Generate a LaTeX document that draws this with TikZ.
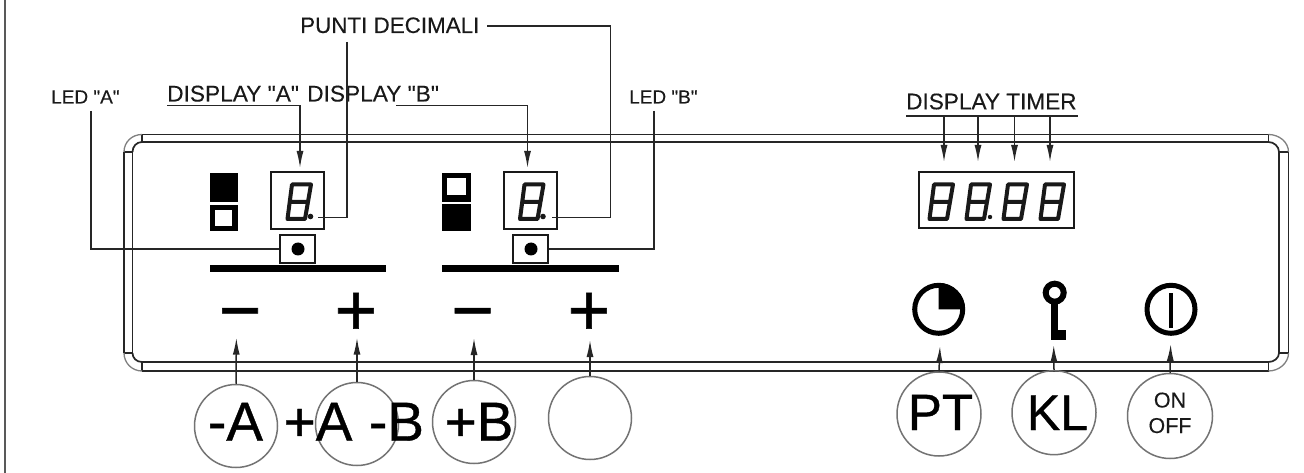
\documentclass[tikz,border=0pt]{standalone}
\usepackage{fontspec}
\setmainfont{Liberation Sans}
\newfontfamily\heavyfont[FakeBold=0.7]{Liberation Sans}
\newfontfamily\midfont[FakeBold=0.2]{Liberation Sans}
\usetikzlibrary{arrows.meta}
\newcommand{\fs}[1]{\fontsize{#1}{#1}\selectfont}
\tikzset{
  ink/.style={draw=black!85,line width=1.7pt},
  lead/.style={draw=black!85,line width=1.5pt},
  lead arrow/.style={lead,-{Latex[length=17pt,width=7pt]}},
  arc gray/.style={draw=black!50,line width=1.3pt},
  box/.style={draw=black!90,line width=1.6pt,inner sep=0,rectangle},
  button/.style={circle,draw=black!55,line width=1.5pt,minimum size=83pt,inner sep=0},
  lab/.style={inner sep=0,anchor=base west,text=black!90},
  bigtext/.style={inner sep=0,anchor=base,text=black,font=\heavyfont\fs{55}},
  sign/.style={inner sep=0,anchor=base,text=black,font=\heavyfont\fs{73}},
  pics/segdigit/.style={code={
    \draw[black!90,line width=4pt,line join=round]
      (6,1.5)--(25,1.5)--(19,36)--(1.5,36)--cycle (3.7,19)--(22,19);
  }}
}
\begin{document}
\begin{tikzpicture}[x=1pt,y=-1pt]
\useasboundingbox (0,0) rectangle (1304,473);
\fill[white] (0,0) rectangle (1304,473);
% outer left frame
\draw[draw=black!65,line width=2.2pt] (5,0)--(5,473);
% panel
\draw[ink] (142,134.5)--(1268.5,134.5) (142,142)--(1268.5,142)
  (142,362)--(1268.5,362) (142,371)--(1268.5,371)
  (124,152)--(124,353) (132.5,152)--(132.5,353)
  (1279,152)--(1279,353) (1288.5,152)--(1288.5,353);
\draw[ink] (142,134.5)--(142,142) (1268.5,134.5)--(1268.5,142)
  (142,362)--(142,371) (1268.5,362)--(1268.5,371)
  (124,152)--(132.5,152) (1279,152)--(1288.5,152)
  (124,353)--(132.5,353) (1279,353)--(1288.5,353);
\draw[arc gray] (124,152) .. controls (124,142) and (132,134.5) .. (142,134.5)
  (1268.5,134.5) .. controls (1279,134.5) and (1288.5,142) .. (1288.5,152)
  (1288.5,353) .. controls (1288.5,363) and (1279,371) .. (1268.5,371)
  (142,371) .. controls (132,371) and (124,363) .. (124,353);
\draw[ink] (132.5,152) .. controls (132.5,146.5) and (136.5,142) .. (142,142)
  (1268.5,142) .. controls (1274,142) and (1279,146.5) .. (1279,152)
  (1279,353) .. controls (1279,358) and (1274,362) .. (1268.5,362)
  (142,362) .. controls (136.5,362) and (132.5,358) .. (132.5,353);
% status squares A
\fill[black] (210,173) rectangle (238,202);
\fill[black] (210,205) rectangle (238,231);
\fill[white] (215,210) rectangle (232,226);
% status squares B
\fill[black] (442,173) rectangle (471,202);
\fill[white] (447,178) rectangle (466,195);
\fill[black] (442,204) rectangle (471,231);
% bars
\fill[black] (210,265) rectangle (386,272);
\fill[black] (442,265) rectangle (619,272);
% displays
\node[box,minimum width=53pt,minimum height=57pt] (dispA) at (297.5,200.5) {};
\node[box,minimum width=53pt,minimum height=57pt] (dispB) at (530.5,200.5) {};
\node[box,minimum width=155pt,minimum height=56.5pt] (dispT) at (996.5,200) {};
\pic at (286,183) {segdigit};
\pic at (518.5,183) {segdigit};
\pic at (928,183) {segdigit};
\pic at (965,183) {segdigit};
\pic at (1002,183) {segdigit};
\pic at (1039,183) {segdigit};
\fill[black!90] (310.5,216.5) circle[radius=2.8pt];
\fill[black!90] (543,216.5) circle[radius=2.8pt];
\fill[black!90] (990,217) circle[radius=2.2pt];
% LEDs
\node[box,minimum width=35pt,minimum height=28pt] (ledA) at (297.5,249) {};
\node[box,minimum width=35pt,minimum height=28pt] (ledB) at (530.5,249) {};
\fill[black] (298,249) circle[radius=6.5pt];
\fill[black] (531,249) circle[radius=6.5pt];
% labels
\node[lab,font=\midfont\fs{22.4}] (tPunti) at (300,33) {PUNTI DECIMALI};
\node[lab,font=\midfont\fs{22.7}] (tDA) at (167,101.5) {DISPLAY "A"};
\node[lab,font=\midfont\fs{22.7}] (tDB) at (307,101.5) {DISPLAY "B"};
\node[lab,font=\midfont\fs{19}] (tLA) at (51,103.5) {LED "A"};
\node[lab,font=\midfont\fs{19}] (tLB) at (629,103.5) {LED "B"};
\node[lab,font=\midfont\fs{22.6}] (tDT) at (906,109.3) {DISPLAY TIMER};
% leader free ends
\coordinate (pA0) at (347,42);
\coordinate (pA1) at (318,217.5);
\coordinate (pB0) at (487,26);
\coordinate (pBc) at (610.5,26);
\coordinate (pB1) at (552,217.5);
\coordinate (lA0) at (91,111);
\coordinate (lB0) at (654,111);
\coordinate (dA0) at (167,105.5);
\coordinate (dAc) at (300,105.5);
\coordinate (dA1) at (300,168);
\coordinate (dB0) at (396,105.5);
\coordinate (dBc) at (527.5,105.5);
\coordinate (dB1) at (527.5,168);
\draw[lead] (pA0) |- (pA1);
\draw[lead] (pB0) -- (pBc) |- (pB1);
\draw[lead] (lA0) |- (ledA.west);
\draw[lead] (lB0) |- (ledB.east);
\draw[lead] (dA0) -- (dAc);
\draw[lead arrow] (dAc) -- (dA1);
\draw[lead] (dB0) -- (dBc);
\draw[lead arrow] (dBc) -- (dB1);
% timer leaders
\coordinate (uL) at (906,116);
\coordinate (uR) at (1078,116);
\draw[lead] (uL) -- (uR);
\foreach \n/\x in {a/944,b/978,c/1014.5,d/1050}{
  \coordinate (tt\n) at (\x,116);
  \coordinate (tb\n) at (\x,162);
  \draw[lead arrow] (tt\n) -- (tb\n);
}
% signs
\node[sign] (mA) at (240,335) {−};
\node[sign] (pA) at (356,335) {+};
\node[sign] (mB) at (472.5,335) {−};
\node[sign] (pB) at (589,335) {+};
% icons
\draw[black,line width=5pt] (938.7,309.3) circle[radius=24pt];
\fill[black] (938.7,309.3) -- (938.7,283) .. controls (953.2,283) and (965,294.8) .. (965,309.3) -- cycle;
\draw[black,line width=6pt] (1054.7,292.7) circle[radius=9pt];
\fill[black] (1051.3,300) rectangle (1057.7,339.5);
\fill[black] (1051.3,329.5) rectangle (1066,339.5);
\draw[black,line width=5pt] (1171,309.3) circle[radius=24pt];
\draw[black,line width=4.4pt] (1171,293)--(1171,328);
% buttons
\node[button] (b1) at (236,426) {};
\node[button] (b2) at (357,424) {};
\node[button] (b3) at (474,422) {};
\node[button] (b4) at (590,418) {};
\node[button,minimum size=84pt] (b5) at (939,414) {};
\node[button,minimum size=84pt] (b6) at (1054,412.7) {};
\node[button,minimum size=85pt] (b7) at (1170,416) {};
\node[bigtext] (t1) at (235.5,440.7) {-A};
\node[bigtext] (t2) at (318,440.7) {+A};
\node[bigtext] (t3) at (396.5,440.7) {-B};
\node[bigtext] (t4) at (479,440.7) {+B};
\node[bigtext,font=\heavyfont\fs{51}] (t5) at (940.5,430) {PT};
\node[bigtext,font=\heavyfont\fs{50}] (t6) at (1057.5,430) {KL};
\node[inner sep=0,anchor=base,text=black!90,font=\midfont\fs{21.5}] (t7a) at (1170,407.5) {ON};
\node[inner sep=0,anchor=base,text=black!90,font=\midfont\fs{21.5}] (t7b) at (1170,433) {OFF};
% button arrows
\foreach \b/\t/\x/\y in {b1/a1/236.4/337.7,b2/a2/357/337.7,b3/a3/474/338,b4/a4/590/340,b5/a5/940/346,b6/a6/1053.7/345,b7/a7/1170.7/344}{
  \coordinate (\t) at (\x,\y);
  \draw[lead arrow] (\b.north) -- (\t);
}
\end{tikzpicture}
\end{document}
